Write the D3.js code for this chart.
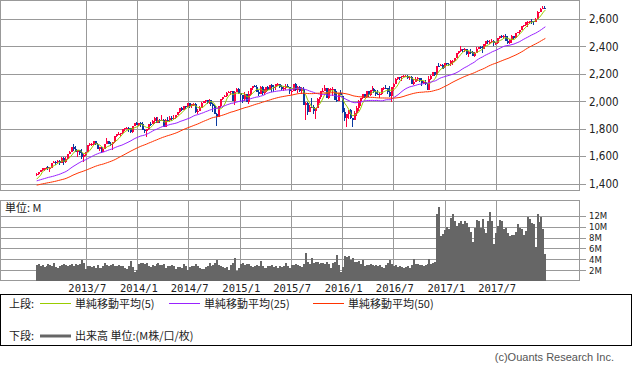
<!DOCTYPE html>
<html><head><meta charset="utf-8">
<script src="https://cdn.jsdelivr.net/npm/d3@7"></script>
<style>
html,body{margin:0;padding:0;background:#fff;}
svg{display:block;}
</style></head><body>
<svg id="c" width="633" height="370"></svg>
<script>
// weekly closes before the first drawn bar (needed for moving averages)
const priorCloses = [1277,1289,1315,1316,1345,1342,1361,1366,1370,1371,1404,1397,1408,1398,1370,1378,1403,1369,1353,1295,1318,1278,1325,1343,1335,1362,1354,1356,1362,1386,1391,1406,1418,1411,1407,1438,1466,1460,1441,1461,1428,1433,1412,1414,1380,1359,1409,1416,1418,1413,1430,1385,1466];

// weekly [open, high, low, close], first week = 2013-01-07
const ohlc2013 = [[1466,1475,1456,1472],[1472,1486,1463,1486],[1486,1503,1482,1503],[1503,1514,1496,1513],[1513,1518,1495,1518],[1518,1524,1510,1519],[1519,1530,1498,1515],[1515,1525,1485,1518],[1518,1552,1514,1551],[1551,1564,1549,1561],[1561,1563,1538,1556],[1556,1570,1546,1569],[1569,1573,1539,1553],[1553,1597,1548,1588],[1588,1593,1536,1555],[1555,1592,1553,1582],[1582,1618,1577,1614],[1614,1635,1614,1633],[1633,1667,1630,1667],[1667,1687,1635,1650],[1650,1674,1628,1631],[1631,1646,1598,1643],[1643,1648,1608,1626],[1626,1654,1577,1592],[1592,1620,1560,1606],[1606,1632,1605,1632],[1632,1680,1632,1680],[1680,1693,1672,1692],[1692,1698,1676,1692],[1692,1710,1682,1710],[1710,1710,1684,1691],[1691,1696,1655,1656],[1656,1664,1640,1664],[1664,1669,1627,1633],[1633,1670,1633,1655],[1655,1689,1655,1688],[1688,1730,1687,1710],[1710,1710,1687,1692],[1692,1701,1673,1691],[1691,1704,1646,1703],[1703,1745,1697,1745],[1745,1763,1741,1760],[1760,1775,1752,1762],[1762,1771,1746,1771],[1771,1798,1761,1798],[1798,1805,1784,1805],[1805,1813,1800,1806],[1806,1811,1779,1805],[1805,1809,1772,1775],[1775,1823,1767,1818],[1818,1844,1818,1841]];
const ohlc2014 = [[1841,1849,1827,1831],[1831,1843,1823,1842],[1842,1851,1815,1838],[1838,1850,1790,1790],[1790,1799,1770,1783],[1783,1798,1738,1797],[1797,1838,1791,1838],[1838,1847,1824,1836],[1836,1867,1836,1859],[1859,1883,1834,1878],[1878,1883,1839,1841],[1841,1883,1839,1866],[1866,1875,1842,1857],[1857,1897,1857,1865],[1865,1872,1815,1815],[1815,1869,1815,1864],[1864,1884,1860,1863],[1863,1891,1850,1881],[1881,1892,1859,1878],[1878,1902,1862,1878],[1878,1901,1868,1900],[1900,1924,1900,1924],[1924,1950,1915,1950],[1950,1956,1930,1936],[1936,1964,1934,1963],[1963,1968,1944,1961],[1961,1985,1958,1985],[1985,1986,1952,1967],[1967,1983,1955,1978],[1978,1991,1965,1978],[1978,1985,1916,1925],[1925,1945,1905,1931],[1931,1964,1929,1955],[1955,1992,1955,1988],[1988,2006,1989,2003],[2003,2011,1991,2008],[2008,2008,1983,1985],[1985,2019,1978,2010],[2010,2010,1965,1982],[1982,1985,1926,1968],[1968,1977,1906,1906],[1906,1912,1821,1886],[1886,1966,1886,1964],[1964,2018,1951,2018],[2018,2034,2010,2032],[2032,2046,2030,2039],[2039,2071,2034,2064],[2064,2075,2064,2068],[2068,2079,2049,2075],[2075,2075,2002,2003],[2003,2077,1972,2071],[2071,2094,2069,2089]];
const ohlc2015 = [[2089,2094,2054,2058],[2058,2064,1992,2045],[2045,2046,1988,2019],[2019,2065,2004,2051],[2051,2057,1995,1995],[1995,2072,1981,2055],[2055,2097,2041,2097],[2097,2110,2085,2110],[2110,2119,2103,2105],[2105,2117,2067,2071],[2071,2083,2039,2053],[2053,2114,2053,2108],[2108,2115,2046,2061],[2061,2089,2045,2067],[2067,2103,2064,2102],[2102,2111,2072,2081],[2081,2120,2081,2117],[2117,2126,2067,2108],[2108,2117,2068,2105],[2105,2124,2085,2123],[2123,2135,2115,2126],[2126,2126,2099,2107],[2107,2121,2081,2092],[2092,2115,2072,2094],[2094,2127,2081,2110],[2110,2130,2101,2101],[2101,2101,2056,2077],[2077,2084,2044,2077],[2077,2127,2077,2127],[2127,2132,2079,2080],[2080,2111,2063,2104],[2104,2113,2065,2078],[2078,2104,2052,2092],[2092,2102,1971,1971],[1971,1993,1867,1989],[1989,1992,1903,1921],[1921,1975,1921,1961],[1961,2021,1953,1958],[1958,1970,1908,1931],[1931,1951,1872,1951],[1951,2021,1951,2015],[2015,2034,1990,2033],[2033,2075,2018,2075],[2075,2099,2069,2079],[2079,2116,2080,2099],[2099,2099,2022,2023],[2023,2097,2019,2089],[2089,2097,2071,2090],[2090,2104,2042,2092],[2092,2093,2012,2012],[2012,2076,1993,2006],[2006,2064,2005,2061],[2061,2081,2043,2044]];
const ohlc2016 = [[2038,2038,1918,1922],[1922,1950,1857,1880],[1880,1908,1812,1907],[1907,1940,1872,1940],[1940,1947,1872,1880],[1880,1881,1810,1865],[1865,1930,1865,1918],[1918,1963,1891,1948],[1948,2009,1931,1999],[1999,2022,1969,2022],[2022,2052,2017,2050],[2050,2056,2022,2035],[2035,2075,2022,2073],[2073,2074,2033,2048],[2048,2083,2039,2081],[2081,2111,2077,2092],[2092,2099,2060,2065],[2065,2083,2039,2057],[2057,2084,2044,2047],[2047,2071,2025,2053],[2053,2099,2047,2099],[2099,2106,2085,2099],[2099,2121,2095,2096],[2096,2096,2050,2071],[2071,2113,2033,2037],[2037,2104,1992,2103],[2103,2131,2074,2130],[2130,2169,2131,2162],[2162,2176,2155,2175],[2175,2178,2156,2174],[2174,2183,2147,2183],[2183,2194,2178,2184],[2184,2193,2175,2184],[2184,2193,2160,2169],[2169,2187,2157,2180],[2180,2187,2128,2128],[2128,2164,2119,2139],[2139,2179,2139,2165],[2165,2175,2145,2168],[2168,2169,2142,2153],[2153,2169,2115,2133],[2133,2148,2125,2141],[2141,2152,2122,2126],[2126,2133,2083,2085],[2085,2182,2084,2164],[2164,2189,2156,2182],[2182,2213,2182,2213],[2213,2214,2187,2192],[2192,2260,2192,2260],[2260,2278,2248,2258],[2258,2273,2258,2263],[2263,2273,2233,2239]];
const ohlc2017 = [[2251,2282,2245,2277],[2277,2280,2263,2275],[2275,2279,2258,2271],[2271,2300,2258,2295],[2295,2299,2267,2297],[2297,2319,2289,2316],[2316,2351,2316,2351],[2351,2368,2348,2367],[2367,2401,2358,2383],[2383,2384,2357,2373],[2373,2390,2356,2378],[2378,2379,2335,2344],[2344,2370,2322,2363],[2363,2378,2342,2356],[2356,2365,2328,2329],[2329,2361,2323,2349],[2349,2398,2349,2384],[2384,2399,2378,2399],[2399,2404,2385,2391],[2391,2406,2353,2382],[2382,2418,2382,2416],[2416,2440,2404,2439],[2439,2446,2415,2432],[2432,2446,2418,2433],[2433,2454,2428,2438],[2438,2450,2405,2423],[2423,2434,2407,2425],[2425,2463,2418,2459],[2459,2478,2456,2473],[2473,2484,2459,2472],[2472,2480,2465,2477],[2477,2491,2437,2441],[2441,2474,2417,2426],[2426,2456,2417,2444],[2444,2480,2428,2477],[2477,2477,2446,2461],[2461,2500,2462,2500],[2500,2508,2496,2502],[2502,2519,2488,2519],[2519,2552,2521,2549],[2549,2557,2544,2553],[2553,2576,2552,2575],[2575,2582,2544,2581],[2581,2588,2566,2588],[2588,2597,2566,2582],[2582,2586,2557,2579],[2579,2605,2576,2602],[2602,2657,2600,2642],[2642,2652,2624,2652],[2652,2679,2651,2675],[2675,2695,2676,2683],[2683,2693,2673,2674]];

// weekly volume, millions
const vol2013 = [2.9,3.1,2.8,2.9,2.6,2.7,3.1,3.0,2.8,3.3,2.6,2.4,2.8,2.9,3.2,2.9,2.8,3.0,3.1,2.8,3.1,2.9,3.2,3.9,3.3,2.2,2.8,2.7,2.6,2.8,2.4,2.9,2.4,2.5,2.7,3.4,3.0,2.8,2.9,3.1,2.8,2.7,2.9,2.8,2.7,2.4,2.3,2.8,3.7,2.6,1.6];
const vol2014 = [2.0,3.1,3.3,3.4,3.1,3.3,2.8,2.6,2.9,2.8,3.1,3.4,2.9,3.0,3.2,2.5,2.7,2.8,2.9,2.7,2.3,2.6,2.6,2.5,3.1,2.7,2.1,2.6,2.8,2.7,3.2,2.8,2.4,2.3,2.3,2.6,2.7,3.4,2.7,3.0,3.4,3.9,3.0,2.8,2.6,2.5,2.6,2.1,2.9,3.3,4.3,1.8];
const vol2015 = [2.4,3.2,3.4,3.0,3.2,3.1,2.8,2.6,2.7,2.9,2.8,3.7,2.7,2.4,2.5,2.8,2.7,2.9,2.6,2.7,2.5,2.8,2.6,2.7,3.3,2.8,2.5,3.0,2.9,3.1,3.0,2.8,2.6,3.2,5.1,3.6,3.1,4.3,3.3,3.5,3.6,3.2,3.3,3.4,3.2,3.6,3.1,2.4,3.3,3.6,4.8,2.9,1.7];
const vol2016 = [2.6,4.7,4.5,4.6,3.9,4.3,3.6,3.5,3.7,3.2,3.9,2.8,2.9,3.0,3.1,2.9,2.8,3.0,2.7,2.9,2.6,2.5,2.9,3.3,3.9,3.1,2.7,2.9,2.6,2.7,2.6,2.5,2.6,2.7,2.5,2.9,4.0,3.2,3.1,3.0,2.9,2.8,3.0,3.1,4.0,3.2,3.4,3.6,12.4,13.6,8.3,8.6];
const vol2017 = [9.3,10.0,9.5,11.5,12.3,11.0,10.2,10.7,11.0,10.5,11.0,10.6,10.0,9.0,7.2,9.7,11.3,11.0,9.8,11.4,9.5,8.8,11.0,12.6,11.0,6.9,8.8,10.2,11.3,11.0,9.5,9.8,8.8,8.2,8.5,8.4,9.0,10.5,9.8,9.5,8.5,9.2,11.7,11.4,10.6,10.4,6.3,12.3,10.8,11.7,9.5,5.0];

const priceTicks = [1400,1600,1800,2000,2200,2400,2600];
const volTicks = [2,4,6,8,10,12];
const dateTicks = ["2013/7","2014/1","2014/7","2015/1","2015/7","2016/1","2016/7","2017/1","2017/7"];
const maPeriods = [5,25,50];
const maLabels = ["単純移動平均(5)","単純移動平均(25)","単純移動平均(50)"];
const upperLabel = "上段:";
const lowerLabel = "下段:";
const volLegendLabel = "出来高 単位:(M株/口/枚)";
const volUnitLabel = "単位: M";
const copyright = "(c)Ouants Research Inc.";

// ---------- build ----------
const ohlc = [].concat(ohlc2013, ohlc2014, ohlc2015, ohlc2016, ohlc2017);
const vols = [].concat(vol2013, vol2014, vol2015, vol2016, vol2017);
const t0 = new Date(2013, 0, 7);
const data = ohlc.map((d, i) => ({date: d3.timeDay.offset(t0, 7 * i), o: d[0], h: d[1], l: d[2], c: d[3], v: vols[i]}));
const allCloses = priorCloses.concat(ohlc.map(d => d[3]));
const P = priorCloses.length;
const sma = n => data.map((d, i) => { const j = P + i; return {date: d.date, v: d3.mean(allCloses.slice(j - n + 1, j + 1))}; });

const maColors = ["#99cc00", "#9922ff", "#ff3300"];
const upColor = "#ff0040", downColor = "#0a3aa0";
const gridColor = "#999";
const axisFont = "'DejaVu Sans Condensed','DejaVu Sans',sans-serif";
const jpFont = "'Noto Sans CJK JP','Noto Sans',sans-serif";

const L = 0, R = 579;
const pTop = 0, pBot = 190;
const vTop = 200.5, vBot = 280.5;

const x = d3.scaleTime().domain([new Date(2013, 6, 1), new Date(2017, 6, 1)]).range([85.8, 495.7]);
const yP = d3.scaleLinear().domain([1400, 2600]).range([183.7, 19]);
const yV = d3.scaleLinear().domain([0, 12]).range([281.2, 215.7]);

const svg = d3.select("#c");
const parseTick = s => { const [yy, mm] = s.split("/").map(Number); return new Date(yy, mm - 1, 1); };
const tickDates = dateTicks.map(parseTick);
const px = v => Math.round(v) + 0.5;

svg.append("rect").attr("x", 0).attr("y", 0).attr("width", 633).attr("height", 370).attr("fill", "#fff");

function gridPanel(top, bot, yScale, ticks) {
  const g = svg.append("g").attr("shape-rendering", "crispEdges");
  g.selectAll(".h").data(ticks).enter().append("line")
    .attr("x1", L).attr("x2", R + 7)
    .attr("y1", d => px(yScale(d))).attr("y2", d => px(yScale(d)))
    .attr("stroke", gridColor);
  g.selectAll(".v").data(tickDates).enter().append("line")
    .attr("x1", d => px(x(d))).attr("x2", d => px(x(d)))
    .attr("y1", top).attr("y2", bot)
    .attr("stroke", gridColor);
  g.append("rect").attr("x", L + 0.5).attr("y", top + 0.5).attr("width", R - L - 0.5).attr("height", bot - top - 0.5)
    .attr("fill", "none").attr("stroke", gridColor);
}
gridPanel(pTop, pBot, yP, priceTicks);
gridPanel(vTop - 0.5, vBot, yV, volTicks);

// price axis labels
const ay = svg.append("g").attr("transform", `translate(${R},0)`)
  .call(d3.axisRight(yP).tickValues(priceTicks).tickSize(0).tickPadding(10).tickFormat(d3.format(",")));
ay.select(".domain").remove();
ay.selectAll("text").attr("font-family", axisFont).attr("font-size", 11.5).attr("fill", "#222");

// volume axis labels
const av = svg.append("g").attr("transform", `translate(${R},0)`)
  .call(d3.axisRight(yV).tickValues(volTicks).tickSize(0).tickPadding(10).tickFormat(d => d + "M"));
av.select(".domain").remove();
av.selectAll("text").attr("font-family", axisFont).attr("font-size", 9.5).attr("fill", "#222");

// date labels
const ax = svg.append("g").attr("transform", `translate(1,${vBot})`)
  .call(d3.axisBottom(x).tickValues(tickDates).tickSize(0).tickPadding(4).tickFormat((d, i) => dateTicks[i]));
ax.select(".domain").remove();
ax.selectAll("text").attr("font-family", "'DejaVu Sans Mono','Liberation Mono',monospace").attr("font-size", 10.5).attr("fill", "#222");

// candles
const cg = svg.append("g").attr("shape-rendering", "crispEdges");
data.forEach(d => {
  const cx = Math.round(x(d.date));
  const col = d.c >= d.o ? upColor : downColor;
  cg.append("line").attr("x1", cx - 0.5).attr("x2", cx - 0.5)
    .attr("y1", yP(d.h)).attr("y2", yP(d.l)).attr("stroke", col).attr("stroke-width", 1);
  const y1 = yP(Math.max(d.o, d.c)), y2 = yP(Math.min(d.o, d.c));
  cg.append("rect").attr("x", cx - 1).attr("width", 2)
    .attr("y", y1).attr("height", Math.max(1, y2 - y1)).attr("fill", col);
});

// moving averages
maPeriods.forEach((n, k) => {
  svg.append("path").datum(sma(n))
    .attr("fill", "none").attr("stroke", maColors[k]).attr("stroke-width", 1)
    .attr("d", d3.line().x(d => x(d.date)).y(d => yP(d.v)));
});

// volume bars
const vg = svg.append("g").attr("shape-rendering", "crispEdges");
vg.selectAll("rect").data(data).enter().append("rect")
  .attr("x", d => Math.round(x(d.date)) - 1).attr("width", 2)
  .attr("y", d => Math.max(vTop, yV(d.v))).attr("height", d => vBot - Math.max(vTop, yV(d.v)))
  .attr("fill", "#666");

svg.append("text").attr("x", 5).attr("y", 212).attr("font-family", jpFont).attr("font-size", 11)
  .attr("fill", "#222").text(volUnitLabel);

// legend
svg.append("rect").attr("x", 0.5).attr("y", 294.5).attr("width", 631).attr("height", 51)
  .attr("fill", "#fff").attr("stroke", "#000").attr("shape-rendering", "crispEdges");
const lg = svg.append("g").attr("font-family", jpFont).attr("font-size", 11).attr("fill", "#222");
lg.append("text").attr("x", 9).attr("y", 308).text(upperLabel);
const maX = [40, 169, 313];
maLabels.forEach((t, k) => {
  lg.append("line").attr("x1", maX[k]).attr("x2", maX[k] + 31).attr("y1", 303.5).attr("y2", 303.5)
    .attr("stroke", maColors[k]).attr("stroke-width", 1);
  lg.append("text").attr("x", maX[k] + 35).attr("y", 308).text(t);
});
lg.append("text").attr("x", 9).attr("y", 340).text(lowerLabel);
lg.append("line").attr("x1", 40).attr("x2", 71).attr("y1", 336).attr("y2", 336)
  .attr("stroke", "#666").attr("stroke-width", 3);
lg.append("text").attr("x", 75).attr("y", 340).text(volLegendLabel);

svg.append("text").attr("x", 614).attr("y", 361).attr("text-anchor", "end")
  .attr("font-family", "'Liberation Sans',Arial,sans-serif").attr("font-size", 11).attr("fill", "#555")
  .text(copyright);
</script>
</body></html>
